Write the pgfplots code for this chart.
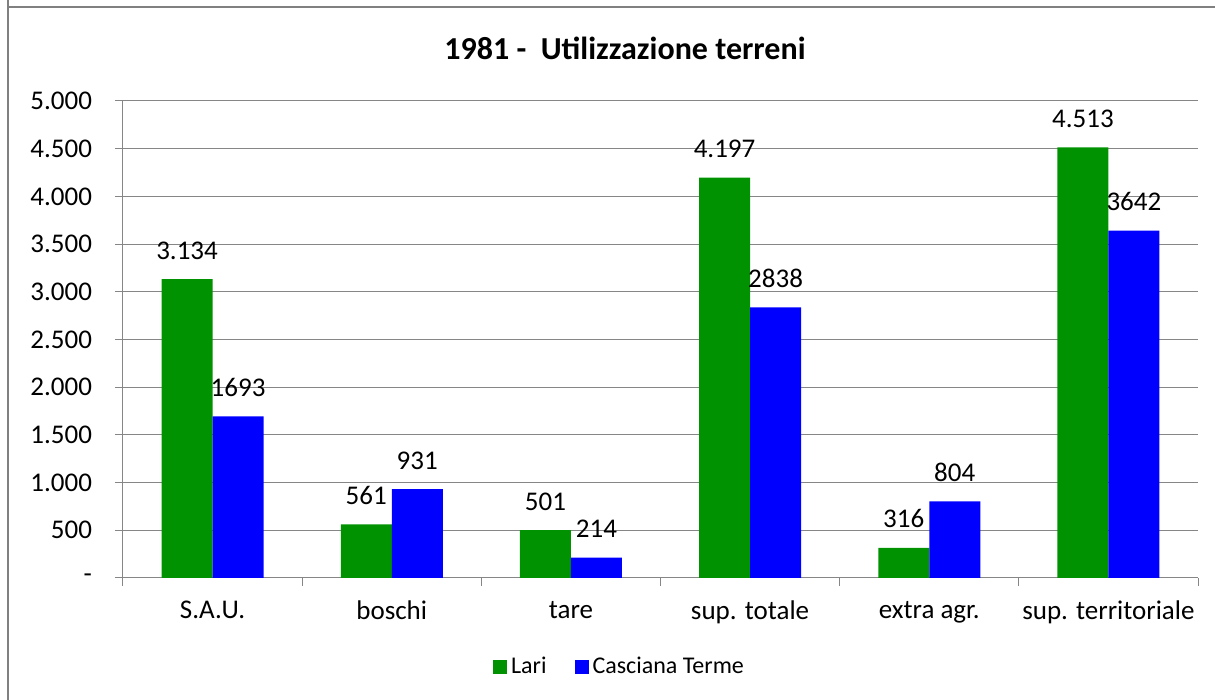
\documentclass[border=0pt]{standalone}
\usepackage{pgfplots}
\pgfplotsset{compat=1.18}
\usepackage{fontspec}
\setmainfont{Carlito}
\definecolor{lari}{RGB}{0,146,0}
\definecolor{cas}{RGB}{0,0,255}
\definecolor{gridgray}{RGB}{134,134,134}
\definecolor{framegray}{RGB}{128,128,128}
\begin{document}
\begin{tikzpicture}[x=1pt,y=1pt]
\useasboundingbox (0pt,0pt) rectangle (607.5pt,350pt);
\draw[framegray, line width=1pt] (4pt,0pt) -- (4pt,350pt);
\draw[framegray, line width=1pt] (4pt,346.3pt) -- (607.5pt,346.3pt);
\node[font=\fontsize{16}{19}\selectfont\bfseries] at (312.5pt,326pt) {1981 -\ \ Utilizzazione terreni};
\begin{axis}[
  at={(61.5pt,61pt)}, anchor=south west,
  scale only axis, width=537.5pt, height=238.5pt,
  ybar=0pt, bar width=25.5pt,
  xmin=-0.5, xmax=5.5, ymin=0, ymax=5000,
  axis x line*=bottom, axis y line*=left,
  axis line style={gridgray, line width=0.5pt},
  tick align=outside,
  major tick length=4pt, minor tick length=4pt,
  xtick={0,...,5},
  xticklabels={S.A.U., boschi, tare, sup. totale, extra agr., sup. territoriale},
  minor xtick={-0.5,0.5,1.5,2.5,3.5,4.5,5.5},
  major x tick style={draw=none},
  minor x tick style={gridgray, line width=0.5pt},
  y tick style={gridgray, line width=0.5pt},
  ytick={0,500,...,5000},
  yticklabels={-,500,1.000,1.500,2.000,2.500,3.000,3.500,4.000,4.500,5.000},
  ymajorgrids, grid style={gridgray, line width=0.5pt},
  tick label style={font=\fontsize{13.5}{16}\selectfont, black},
  xticklabel style={yshift=-4pt},
  yticklabel style={xshift=-8pt},
  point meta=explicit symbolic,
  nodes near coords={\pgfplotspointmeta},
  every node near coord/.append style={anchor=base, yshift=10pt, font=\fontsize{13.5}{16}\selectfont, black},
  legend columns=2,
  legend style={at={(0.4628,-0.1866)}, anchor=center, draw=none, fill=none,
    font=\fontsize{12}{14}\selectfont,
    /tikz/every even column/.append style={column sep=12pt}},
  legend image code/.code={\fill[#1] (0pt,-3.3pt) rectangle (7pt,3.3pt);},
]
\addplot[fill=lari, draw=none] table[x=x, y=y, meta=lab] {
x y lab
0 3134 3.134
1 561 561
2 501 501
3 4197 4.197
4 316 316
5 4513 4.513
};
\addlegendentry{Lari}
\addplot[fill=cas, draw=none] table[x=x, y=y, meta=lab] {
x y lab
0 1693 1693
1 931 931
2 214 214
3 2838 2838
4 804 804
5 3642 3642
};
\addlegendentry{Casciana Terme}
\end{axis}
\end{tikzpicture}
\end{document}
